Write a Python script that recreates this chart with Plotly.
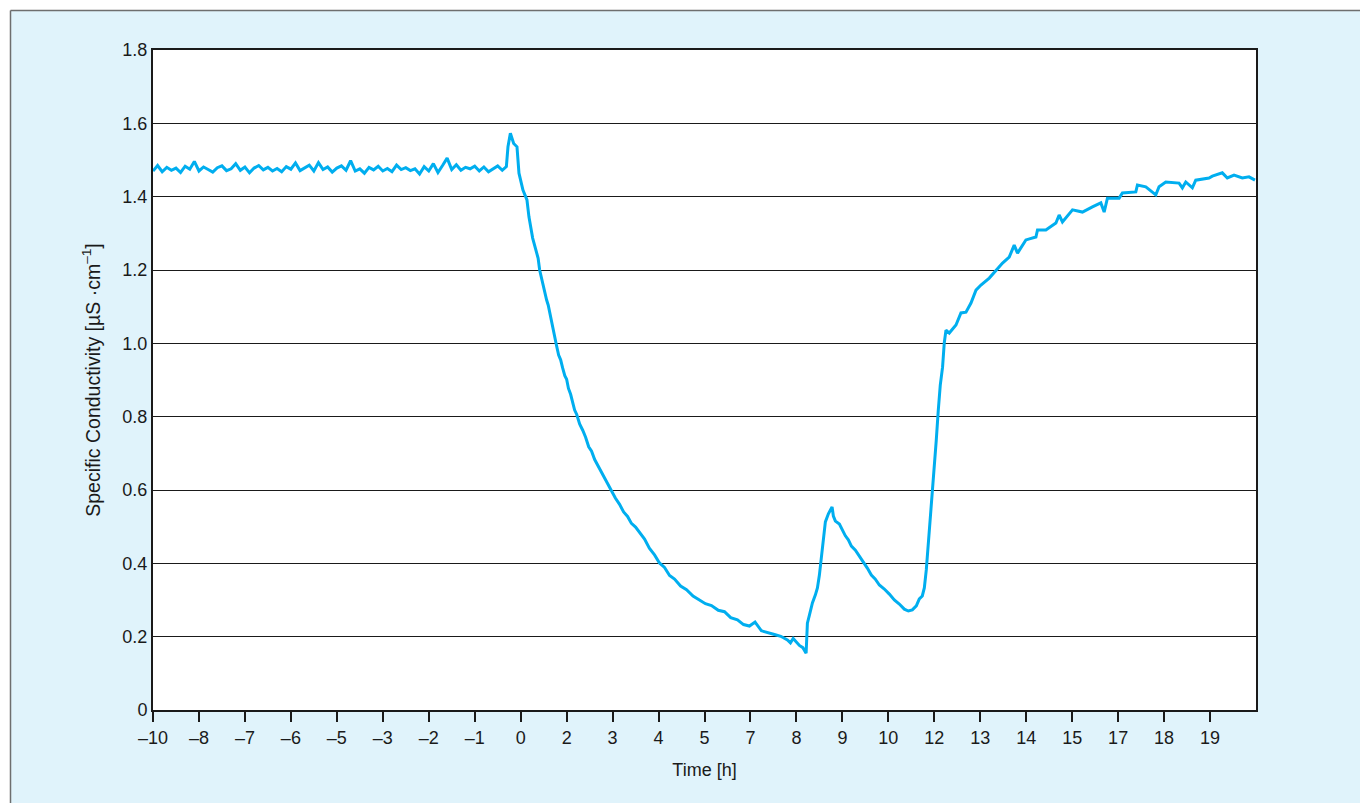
import plotly.graph_objects as go

# x-axis: evenly spaced tick positions with the labels printed on the original chart
tick_pos = list(range(24))
tick_labels = ["–10", "–8", "–7", "–6", "–5", "–3", "–2", "–1", "0", "2", "3", "4",
               "5", "7", "8", "9", "10", "12", "13", "14", "15", "17", "18", "19"]
y_ticks = [0, 0.2, 0.4, 0.6, 0.8, 1.0, 1.2, 1.4, 1.6, 1.8]
y_tick_labels = ["0", "0.2", "0.4", "0.6", "0.8", "1.0", "1.2", "1.4", "1.6", "1.8"]

# baseline segment (axis position, conductivity)
base_pos = [0.0, 0.1, 0.2, 0.3, 0.4, 0.5, 0.6, 0.7, 0.8, 0.9, 1.0, 1.1, 1.2, 1.3, 1.4, 1.5,
            1.6, 1.7, 1.8, 1.9, 2.0, 2.1, 2.2, 2.3, 2.4, 2.5, 2.6, 2.7, 2.8, 2.9, 3.0, 3.1,
            3.2, 3.3, 3.4, 3.5, 3.6, 3.7, 3.8, 3.9, 4.0, 4.1, 4.2, 4.3, 4.4, 4.5, 4.6, 4.7,
            4.8, 4.9, 5.0, 5.1, 5.2, 5.3, 5.4, 5.5, 5.6, 5.7, 5.8, 5.9, 6.0, 6.1, 6.2, 6.3,
            6.4, 6.5, 6.6, 6.7, 6.8, 6.9, 7.0, 7.1, 7.2, 7.3, 7.4, 7.5, 7.6]
base_val = [1.470, 1.485, 1.468, 1.480, 1.472, 1.478, 1.466, 1.483, 1.475, 1.496, 1.470,
            1.481, 1.474, 1.467, 1.479, 1.484, 1.471, 1.476, 1.490, 1.472, 1.481, 1.465,
            1.478, 1.485, 1.473, 1.480, 1.470, 1.477, 1.468, 1.482, 1.475, 1.492, 1.471,
            1.479, 1.486, 1.470, 1.493, 1.474, 1.481, 1.467, 1.478, 1.484, 1.472, 1.498,
            1.470, 1.476, 1.464, 1.480, 1.473, 1.483, 1.470, 1.477, 1.468, 1.486, 1.474,
            1.479, 1.471, 1.476, 1.462, 1.482, 1.470, 1.490, 1.466, 1.485, 1.505, 1.474,
            1.487, 1.472, 1.480, 1.476, 1.483, 1.470, 1.481, 1.468, 1.477, 1.484, 1.472]

# peak and decline
fall_pos = [7.689, 7.724, 7.776, 7.848, 7.920, 7.963, 8.050, 8.137, 8.180, 8.261, 8.30,
            8.348, 8.38, 8.413, 8.45, 8.478, 8.52, 8.565, 8.60, 8.652, 8.69, 8.739, 8.78,
            8.826, 8.87, 8.913, 8.96, 9.000, 9.04, 9.087, 9.13, 9.174, 9.22, 9.283, 9.35,
            9.413, 9.48, 9.543, 9.61, 9.674, 9.75, 9.826, 9.90, 9.978, 10.06, 10.152, 10.24,
            10.326, 10.41, 10.500, 10.60, 10.696, 10.80, 10.913, 11.02, 11.130, 11.24,
            11.348, 11.48, 11.609, 11.75, 11.891, 12.02, 12.152, 12.30, 12.435, 12.57,
            12.717, 12.85, 12.978, 13.10, 13.239, 13.38, 13.522, 13.66, 13.804, 13.87,
            13.93, 14.065, 14.14, 14.211]
fall_val = [1.482, 1.536, 1.573, 1.545, 1.536, 1.464, 1.418, 1.391, 1.345, 1.287, 1.268,
            1.241, 1.232, 1.200, 1.178, 1.162, 1.141, 1.118, 1.104, 1.069, 1.052, 1.018,
            0.994, 0.968, 0.955, 0.933, 0.912, 0.902, 0.877, 0.861, 0.838, 0.818, 0.806,
            0.780, 0.763, 0.744, 0.718, 0.706, 0.683, 0.668, 0.651, 0.631, 0.617, 0.595,
            0.578, 0.561, 0.540, 0.528, 0.509, 0.499, 0.481, 0.466, 0.441, 0.423, 0.401,
            0.389, 0.367, 0.357, 0.338, 0.328, 0.311, 0.300, 0.290, 0.285, 0.272, 0.268,
            0.252, 0.246, 0.233, 0.229, 0.240, 0.216, 0.212, 0.206, 0.201, 0.191, 0.183,
            0.195, 0.176, 0.170, 0.155]

# secondary peak, dip and recovery
rise_pos = [14.239, 14.283, 14.348, 14.413, 14.457, 14.500, 14.543, 14.587, 14.630, 14.696,
            14.739, 14.776, 14.804, 14.848, 14.935, 15.000, 15.065, 15.130, 15.196, 15.283,
            15.370, 15.457, 15.543, 15.630, 15.717, 15.804, 15.913, 16.022, 16.130, 16.239,
            16.348, 16.435, 16.522, 16.609, 16.674, 16.739, 16.783, 16.826, 16.870, 16.913,
            16.957, 17.000, 17.043, 17.087, 17.130, 17.180, 17.217, 17.254, 17.326, 17.472,
            17.580, 17.689, 17.798, 17.907, 18.015, 18.196, 18.341, 18.485, 18.630, 18.739,
            18.811, 18.993, 19.211, 19.246, 19.428, 19.646, 19.717, 19.789, 20.007, 20.224,
            20.441, 20.624, 20.696, 20.767, 21.022, 21.093, 21.385, 21.420, 21.602, 21.820,
            21.891, 22.037, 22.326, 22.398, 22.472, 22.615, 22.689, 22.978, 23.050, 23.267,
            23.376, 23.522, 23.702, 23.848, 23.978]
rise_val = [0.237, 0.259, 0.292, 0.314, 0.333, 0.368, 0.417, 0.477, 0.513, 0.535, 0.545,
            0.554, 0.529, 0.515, 0.507, 0.491, 0.475, 0.464, 0.447, 0.436, 0.420, 0.404,
            0.387, 0.368, 0.357, 0.341, 0.330, 0.316, 0.300, 0.289, 0.275, 0.270, 0.273,
            0.284, 0.303, 0.311, 0.333, 0.382, 0.450, 0.532, 0.600, 0.655, 0.736, 0.818,
            0.886, 0.935, 1.001, 1.036, 1.028, 1.050, 1.083, 1.085, 1.110, 1.145, 1.159,
            1.178, 1.200, 1.219, 1.235, 1.268, 1.246, 1.282, 1.290, 1.309, 1.309, 1.328,
            1.350, 1.331, 1.364, 1.358, 1.372, 1.383, 1.358, 1.396, 1.396, 1.410, 1.413,
            1.432, 1.427, 1.405, 1.427, 1.440, 1.437, 1.424, 1.440, 1.424, 1.445, 1.451,
            1.456, 1.465, 1.451, 1.459, 1.451, 1.454, 1.445]

time_pos = base_pos + fall_pos + rise_pos
conductivity = base_val + fall_val + rise_val

W, H = 1360, 803
ML, MR, MT, MB = 153, 104, 50, 93
PW, PH = W - ML - MR, H - MT - MB


def px(x):
    return (x - ML) / PW


def py(y):
    return (H - MB - y) / PH


BG = "#e0f3fb"
LINE = "#00aeef"
FONT = "Liberation Sans, Arial, sans-serif"
FS = 18

fig = go.Figure()
fig.add_trace(go.Scatter(x=time_pos, y=conductivity, mode="lines",
                         line=dict(color=LINE, width=3), showlegend=False,
                         hoverinfo="skip"))

shapes = [
    dict(type="rect", xref="paper", yref="paper", x0=px(0), x1=px(W), y0=py(0), y1=py(10.5),
         fillcolor="white", line=dict(width=0), layer="below"),
    dict(type="rect", xref="paper", yref="paper", x0=px(0), x1=px(10.5), y0=py(0), y1=py(H),
         fillcolor="white", line=dict(width=0), layer="below"),
    dict(type="line", xref="paper", yref="paper", x0=px(10.5), x1=px(W), y0=py(10.5), y1=py(10.5),
         line=dict(color="#6e6e6e", width=1.5)),
    dict(type="line", xref="paper", yref="paper", x0=px(10.5), x1=px(10.5), y0=py(10.5), y1=py(H),
         line=dict(color="#6e6e6e", width=1.5)),
]

fig.update_layout(
    width=W, height=H,
    margin=dict(l=ML, r=MR, t=MT, b=MB, pad=0),
    paper_bgcolor=BG, plot_bgcolor="white",
    font=dict(family=FONT, size=FS, color="#1a1a1a"),
    shapes=shapes,
    xaxis=dict(range=[0, 24], tickmode="array", tickvals=tick_pos, ticktext=tick_labels,
               ticks="outside", ticklen=10, tickwidth=1.5, tickcolor="#1a1a1a",
               showline=True, linecolor="#1a1a1a", linewidth=2, mirror=True,
               showgrid=False, zeroline=False, tickfont=dict(size=FS),
               title=dict(text="Time [h]", font=dict(size=FS), standoff=17)),
    yaxis=dict(range=[0, 1.8], tickmode="array", tickvals=y_ticks, ticktext=y_tick_labels,
               ticks="", showline=True, linecolor="#1a1a1a", linewidth=2, mirror=True,
               showgrid=True, gridcolor="#1a1a1a", gridwidth=1, zeroline=False,
               tickfont=dict(size=FS),
               title=dict(text="Specific Conductivity [µS ·cm<sup>–1</sup>]",
                          font=dict(size=19.5), standoff=17)),
)

fig.write_html("out.html", config={"displayModeBar": False},
               post_script="document.body.style.margin='0';")
